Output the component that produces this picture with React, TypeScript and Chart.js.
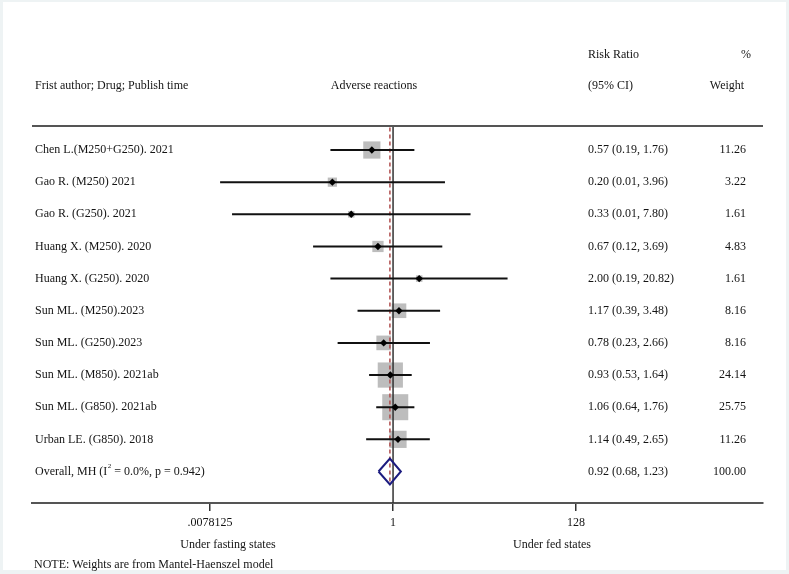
import React, { useEffect, useRef } from "react";
import { Chart, registerables } from "chart.js";

Chart.register(...registerables);

const studies = [
  "Chen L.(M250+G250). 2021",
  "Gao R. (M250) 2021",
  "Gao R. (G250). 2021",
  "Huang X. (M250). 2020",
  "Huang X. (G250). 2020",
  "Sun ML. (M250).2023",
  "Sun ML. (G250).2023",
  "Sun ML. (M850). 2021ab",
  "Sun ML. (G850). 2021ab",
  "Urban LE. (G850). 2018",
];
const riskRatio = [0.57, 0.2, 0.33, 0.67, 2.0, 1.17, 0.78, 0.93, 1.06, 1.14];
const ciLower = [0.19, 0.0102, 0.014, 0.12, 0.19, 0.39, 0.23, 0.53, 0.64, 0.49];
const ciUpper = [1.76, 3.96, 7.8, 3.69, 20.82, 3.48, 2.66, 1.64, 1.76, 2.65];
const weights = [11.26, 3.22, 1.61, 4.83, 1.61, 8.16, 8.16, 24.14, 25.75, 11.26];

const overallLabelPre = "Overall, MH (I";
const overallLabelSup = "2";
const overallLabelPost = " = 0.0%, p = 0.942)";
const overallRR = 0.92;
const overallLower = 0.68;
const overallUpper = 1.23;
const overallWeight = 100.0;

const tickValues = [0.0078125, 1, 128];
const tickLabels = [".0078125", "1", "128"];

const FONT = "'Liberation Serif', 'Times New Roman', serif";
const TEXT = "#141414";

export default function App() {
  const ref = useRef<HTMLCanvasElement | null>(null);

  useEffect(() => {
    const canvas = ref.current;
    if (!canvas) return;
    const n = studies.length;
    const overallRow = n;
    const maxW = Math.max(...weights);

    const frame = {
      id: "frame",
      beforeDraw(chart: any) {
        const { ctx, width, height } = chart;
        ctx.save();
        ctx.fillStyle = "#eef3f4";
        ctx.fillRect(0, 0, width, height);
        ctx.fillStyle = "#ffffff";
        ctx.fillRect(3, 2, width - 6, height - 6);
        ctx.restore();
      },
    };

    const texts = {
      id: "texts",
      afterDraw(chart: any) {
        const { ctx, chartArea } = chart;
        const y = chart.scales.y;
        ctx.save();
        ctx.strokeStyle = "#555";
        ctx.lineWidth = 2;
        ctx.beginPath();
        ctx.moveTo(chartArea.left, chartArea.top);
        ctx.lineTo(chartArea.right, chartArea.top);
        ctx.stroke();

        ctx.fillStyle = TEXT;
        ctx.font = `12px ${FONT}`;
        ctx.textBaseline = "middle";

        ctx.textAlign = "left";
        ctx.fillText("Risk Ratio", 588, 55);
        ctx.fillText("(95% CI)", 588, 86);
        ctx.fillText("Frist author; Drug; Publish time", 35, 86);
        ctx.textAlign = "center";
        ctx.fillText("%", 746, 55);
        ctx.fillText("Weight", 727, 86);
        ctx.fillText("Adverse reactions", 374, 86);

        for (let i = 0; i < n; i++) {
          const py = y.getPixelForValue(i);
          ctx.textAlign = "left";
          ctx.fillText(studies[i], 35, py);
          ctx.fillText(
            `${riskRatio[i].toFixed(2)} (${ciLower[i].toFixed(2)}, ${ciUpper[i].toFixed(2)})`,
            588,
            py
          );
          ctx.textAlign = "right";
          ctx.fillText(weights[i].toFixed(2), 746, py);
        }
        const oy = y.getPixelForValue(overallRow);
        ctx.textAlign = "left";
        ctx.fillText(overallLabelPre, 35, oy);
        const w = ctx.measureText(overallLabelPre).width;
        ctx.font = `7px ${FONT}`;
        ctx.fillText(overallLabelSup, 35 + w + 0.5, oy - 5);
        const ws = ctx.measureText(overallLabelSup).width;
        ctx.font = `12px ${FONT}`;
        ctx.fillText(overallLabelPost, 35 + w + ws + 0.5, oy);
        ctx.fillText(
          `${overallRR.toFixed(2)} (${overallLower.toFixed(2)}, ${overallUpper.toFixed(2)})`,
          588,
          oy
        );
        ctx.textAlign = "right";
        ctx.fillText(overallWeight.toFixed(2), 746, oy);

        ctx.textAlign = "center";
        ctx.fillText("Under fasting states", 228, 545);
        ctx.fillText("Under fed states", 552, 545);
        ctx.textAlign = "left";
        ctx.fillText("NOTE: Weights are from Mantel-Haenszel model", 34, 565);
        ctx.restore();
      },
    };

    const yMin = -0.747;
    const yMax = 10.98;

    const datasets: any[] = [];
    datasets.push({
      type: "scatter",
      data: riskRatio.map((v, i) => ({ x: v, y: i })),
      pointStyle: "rectRot",
      pointRadius: 3.7,
      backgroundColor: "#000",
      borderWidth: 0,
      order: 1,
    });
    const dh = 0.4;
    datasets.push({
      type: "line",
      data: [
        { x: overallLower, y: overallRow },
        { x: overallRR, y: overallRow - dh },
        { x: overallUpper, y: overallRow },
        { x: overallRR, y: overallRow + dh },
        { x: overallLower, y: overallRow },
      ],
      borderColor: "#1c1c80",
      borderWidth: 2,
      pointRadius: 0,
      fill: false,
      tension: 0,
      order: 2,
    });
    for (let i = 0; i < n; i++) {
      datasets.push({
        type: "line",
        data: [
          { x: ciLower[i], y: i },
          { x: ciUpper[i], y: i },
        ],
        borderColor: "#111",
        borderWidth: 2,
        pointRadius: 0,
        fill: false,
        order: 3,
      });
    }
    datasets.push({
      type: "line",
      data: [
        { x: overallRR, y: yMin + 0.05 },
        { x: overallRR, y: overallRow + dh },
      ],
      borderColor: "#b04e4e",
      borderWidth: 1.5,
      borderDash: [4, 3],
      pointRadius: 0,
      order: 4,
    });
    datasets.push({
      type: "line",
      data: [
        { x: 1, y: yMin },
        { x: 1, y: yMax },
      ],
      borderColor: "#333",
      borderWidth: 1.5,
      pointRadius: 0,
      order: 4,
    });
    datasets.push({
      type: "scatter",
      data: riskRatio.map((v, i) => ({ x: v, y: i })),
      pointStyle: "rect",
      pointRadius: weights.map((wt) => 18.4 * Math.sqrt(wt / maxW)),
      backgroundColor: "#bdbdbd",
      borderWidth: 0,
      order: 6,
    });

    const chart = new Chart(canvas, {
      type: "scatter",
      data: { datasets },
      options: {
        animation: false,
        responsive: true,
        maintainAspectRatio: false,
        layout: { padding: { left: 32, right: 26, top: 126, bottom: 41 } },
        plugins: { legend: { display: false }, tooltip: { enabled: false } },
        elements: { line: { tension: 0 } },
        scales: {
          x: {
            type: "logarithmic",
            min: Math.pow(2, -13.81),
            max: Math.pow(2, 14.15),
            afterBuildTicks: (scale: any) => {
              scale.ticks = tickValues.map((v) => ({ value: v }));
            },
            afterFit: (scale: any) => {
              scale.height = 30;
            },
            ticks: {
              autoSkip: false,
              maxRotation: 0,
              padding: 5,
              color: TEXT,
              font: { family: FONT, size: 12 },
              callback: (v: any) => {
                const idx = tickValues.indexOf(Number(v));
                return idx >= 0 ? tickLabels[idx] : "";
              },
            },
            grid: {
              display: true,
              drawOnChartArea: false,
              drawTicks: true,
              tickLength: 8,
              color: "#333",
              lineWidth: 1.5,
            },
            border: { display: true, color: "#555", width: 2 },
          },
          y: {
            type: "linear",
            reverse: true,
            min: yMin,
            max: yMax,
            display: false,
          },
        },
      },
      plugins: [frame, texts],
    });
    return () => chart.destroy();
  }, []);

  return (
    <div style={{ position: "fixed", left: 0, top: 0, width: 789, height: 574 }}>
      <canvas ref={ref} />
    </div>
  );
}
